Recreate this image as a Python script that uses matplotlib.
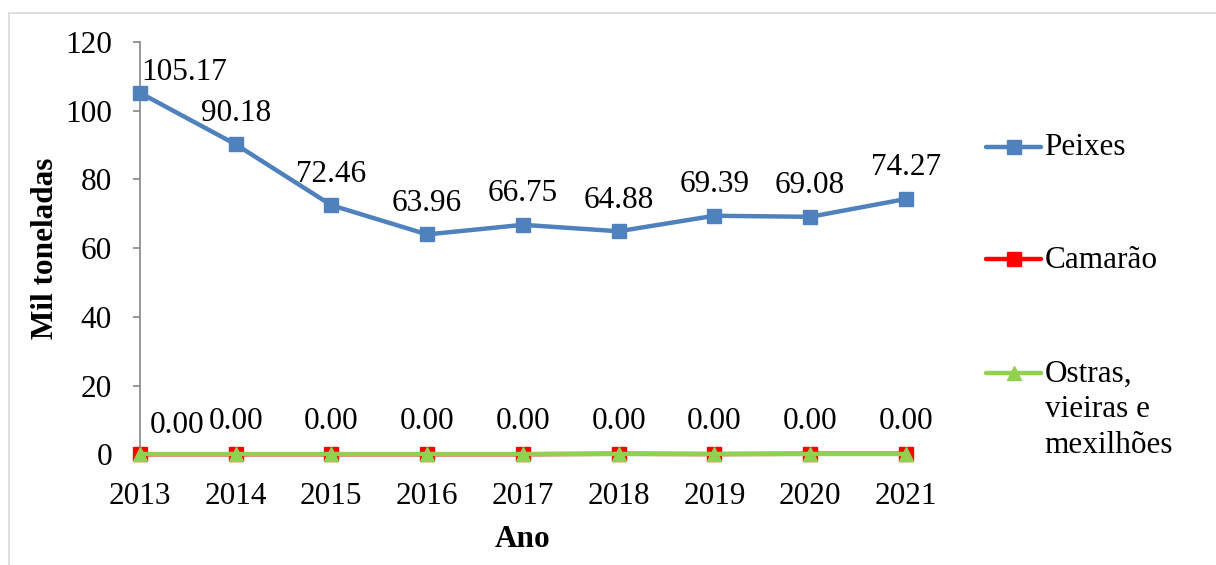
import numpy as np
import matplotlib.pyplot as plt
from matplotlib.lines import Line2D
from matplotlib.patches import Rectangle

plt.rcParams['font.family'] = ['Liberation Serif', 'DejaVu Serif']

anos = [2013, 2014, 2015, 2016, 2017, 2018, 2019, 2020, 2021]
peixes = [105.17, 90.18, 72.46, 63.96, 66.75, 64.88, 69.39, 69.08, 74.27]
camarao = [0.0, 0.0, 0.0, 0.0, 0.0, 0.15, 0.05, 0.15, 0.15]
ostras = [0.0, 0.0, 0.0, 0.0, 0.0, 0.0, 0.0, 0.0, 0.0]
nomes = ['Peixes', 'Camarão', 'Ostras,\nvieiras e\nmexilhões']

azul = '#4F81BD'
vermelho = '#FF0000'
verde = '#92D050'
fs = 22.5

fig = plt.figure(figsize=(12.16, 5.65), dpi=100)
fig.patches.append(Rectangle((0.007, -0.01), 1.0, 0.987, transform=fig.transFigure,
                             fill=False, edgecolor='#D9D9D9', lw=1.2))
ax = fig.add_axes([0.115, 0.196, 0.63, 0.73])

x = np.arange(len(anos))
ax.plot(x, peixes, color=azul, lw=3.2, marker='s', ms=9.5, zorder=3)
ax.plot(x, camarao, color=vermelho, lw=3.2, marker='s', ms=9.5, zorder=3)
ax.plot(x, ostras, color=verde, lw=3.2, marker='^', ms=10, zorder=4)

for i, v in enumerate(peixes):
    dx = 32 if i == 0 else 0
    dy = 4 if i == 0 else 12
    ax.annotate(f'{v:.2f}', (x[i], v), xytext=(dx, dy), textcoords='offset points',
                ha='center', va='bottom', fontsize=fs)
for i, v in enumerate(ostras):
    dx = 27 if i == 0 else 0
    dy = 10 if i == 0 else 13
    ax.annotate(f'{v:.2f}', (x[i], v), xytext=(dx, dy), textcoords='offset points',
                ha='center', va='bottom', fontsize=fs)

ax.set_xlim(0, len(anos) - 1)
ax.set_ylim(0, 120)
ax.set_yticks(np.arange(0, 121, 20))
ax.set_xticks(x)
ax.set_xticklabels([str(a) for a in anos])
ax.tick_params(axis='y', labelsize=fs, length=5, width=1.2, color='#868686', pad=15)
ax.tick_params(axis='x', labelsize=fs, length=0, pad=20)
for s in ['top', 'right']:
    ax.spines[s].set_visible(False)
ax.spines['left'].set_color('#868686')
ax.spines['bottom'].set_color('#868686')
ax.spines['left'].set_linewidth(1.2)
ax.spines['left'].set_zorder(1)
ax.set_ylabel('Mil toneladas', fontsize=fs, fontweight='bold', labelpad=4)
ax.set_xlabel('Ano', fontsize=fs, fontweight='bold', labelpad=10)
for ln in ax.lines:
    ln.set_clip_on(False)

# legenda
cores = [azul, vermelho, verde]
marcas = ['s', 's', '^']
ys = [0.74, 0.541, 0.34]
for nome, c, m, yy in zip(nomes, cores, marcas, ys):
    fig.add_artist(Line2D([0.811, 0.856], [yy, yy], transform=fig.transFigure,
                          color=c, lw=3.2, solid_capstyle='round'))
    fig.add_artist(Line2D([0.8335], [yy], transform=fig.transFigure, color=c,
                          marker=m, ms=9.5))
    fig.text(0.859, yy + 0.024, nome, fontsize=fs, va='top', ha='left', linespacing=1.3)

fig.savefig('out.png', dpi=100)
